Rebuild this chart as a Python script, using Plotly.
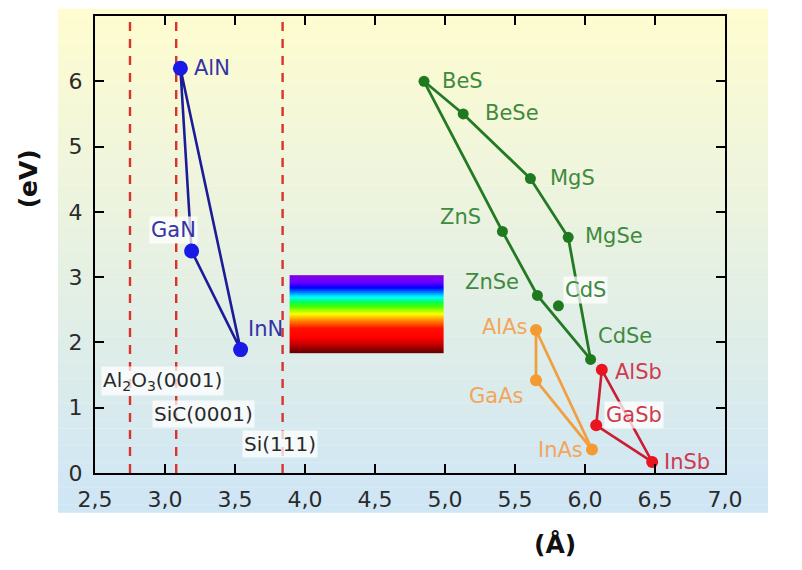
import numpy as np
import plotly.graph_objects as go

# ---------------- data ----------------
nitride_names = ["AlN", "GaN", "InN"]
nitride_a = [3.11, 3.19, 3.54]
nitride_eg = [6.20, 3.40, 1.89]

ii_vi_names = ["BeS", "BeSe", "MgS", "MgSe", "ZnS", "ZnSe", "CdS", "CdSe"]
ii_vi_a = [4.85, 5.13, 5.61, 5.88, 5.41, 5.66, 5.81, 6.04]
ii_vi_eg = [6.00, 5.50, 4.51, 3.61, 3.70, 2.72, 2.56, 1.74]

arsenide_names = ["AlAs", "GaAs", "InAs"]
arsenide_a = [5.65, 5.65, 6.05]
arsenide_eg = [2.19, 1.42, 0.36]

antimonide_names = ["AlSb", "GaSb", "InSb"]
antimonide_a = [6.12, 6.08, 6.48]
antimonide_eg = [1.58, 0.73, 0.17]

# connecting paths (by compound name)
nitride_paths = [["AlN", "GaN", "InN", "AlN"]]
ii_vi_paths = [["BeS", "BeSe", "MgS", "MgSe", "CdSe"], ["BeS", "ZnS", "ZnSe", "CdSe"]]
arsenide_paths = [["AlAs", "GaAs", "InAs", "AlAs"]]
antimonide_paths = [["AlSb", "GaSb", "InSb", "AlSb"]]

substrate_names = ["Al<sub>2</sub>O<sub>3</sub>(0001)", "SiC(0001)", "Si(111)"]
substrate_a = [2.75, 3.08, 3.84]

visible_eg_range = [1.84, 3.03]
visible_a_range = [3.89, 4.99]

x_tickvals = [2.5, 3.0, 3.5, 4.0, 4.5, 5.0, 5.5, 6.0, 6.5, 7.0]
x_ticktext = ["2,5", "3,0", "3,5", "4,0", "4,5", "5,0", "5,5", "6,0", "6,5", "7,0"]
y_tickvals = [0, 1, 2, 3, 4, 5, 6]
y_ticktext = ["0", "1", "2", "3", "4", "5", "6"]

# ---------------- styles ----------------
FONT = "DejaVu Sans, Verdana, sans-serif"
LABEL_SIZE = 21
groups = [
    dict(names=nitride_names, a=nitride_a, eg=nitride_eg, paths=nitride_paths,
         line="#1c1c98", marker="#1a1ae6", text="#3434a8", msize=15, lw=2.6),
    dict(names=ii_vi_names, a=ii_vi_a, eg=ii_vi_eg, paths=ii_vi_paths,
         line="#237a23", marker="#1f7a1f", text="#3f8a3f", msize=11, lw=2.8),
    dict(names=arsenide_names, a=arsenide_a, eg=arsenide_eg, paths=arsenide_paths,
         line="#f0a040", marker="#f59a30", text="#f2a65c", msize=12, lw=2.8),
    dict(names=antimonide_names, a=antimonide_a, eg=antimonide_eg, paths=antimonide_paths,
         line="#cc1c34", marker="#e8141e", text="#d03a4c", msize=12, lw=2.6),
]

# label placement: (xanchor, xshift, yshift, with white box)
label_style = {
    "AlN": ("left", 12, 0, False), "GaN": ("center", -18, 21, True),
    "InN": ("left", 5, 21, False),
    "BeS": ("left", 16, 0, False), "BeSe": ("left", 20, 1, False),
    "MgS": ("left", 18, 1, False), "MgSe": ("left", 15, 1, False),
    "ZnS": ("right", -19, 14, False), "ZnSe": ("right", -16, 13, False),
    "CdS": ("left", 5, 16, True), "CdSe": ("left", 5, 23, False),
    "AlAs": ("right", -6, 3, False), "GaAs": ("right", -11, -16, False),
    "InAs": ("right", -7, 0, False),
    "AlSb": ("left", 11, -2, False), "GaSb": ("left", 8, 10, True),
    "InSb": ("left", 10, 0, False),
}
substrate_label_pos = [(2.54, 1.41), (2.905, 0.905), (3.55, 0.45)]

fig = go.Figure()

# background gradient (yellow top -> light blue bottom)
top_rgb = np.array([255, 253, 208])
bot_rgb = np.array([207, 230, 246])
x0p, x1p = (58 - 95) / 630, (768 - 95) / 630
y_top, y_bot = (473 - 7) / 459, (473 - 513) / 459
nstrip = 60
for i in range(nstrip):
    t = (i + 0.5) / nstrip
    c = top_rgb * (1 - t) + bot_rgb * t
    ya = y_top + (y_bot - y_top) * i / nstrip
    yb = y_top + (y_bot - y_top) * (i + 1) / nstrip
    fig.add_shape(type="rect", xref="paper", yref="paper", x0=x0p, x1=x1p,
                  y0=yb, y1=ya + 0.0005, line=dict(width=0),
                  fillcolor="rgb(%d,%d,%d)" % tuple(c.astype(int)), layer="below")

# visible spectrum block
y_edges = np.linspace(visible_eg_range[0], visible_eg_range[1], 121)
z_mid = [[(y_edges[k] + y_edges[k + 1]) / 2] for k in range(len(y_edges) - 1)]
colorscale = [[0, "#600000"], [0.12, "#d00000"], [0.2, "#ff0000"], [0.32, "#ff1000"],
              [0.42, "#ff8c00"], [0.5, "#ffff00"], [0.6, "#40ff00"], [0.66, "#00ff60"],
              [0.72, "#00ffff"], [0.78, "#0080ff"], [0.84, "#0000ff"], [0.92, "#7000ff"],
              [1, "#8000e0"]]
fig.add_trace(go.Heatmap(x=visible_a_range, y=y_edges, z=z_mid, colorscale=colorscale,
                         showscale=False, hoverinfo="skip"))

# substrate dashed lines
for xs in substrate_a:
    fig.add_trace(go.Scatter(x=[xs, xs], y=[0.0, 7.0], mode="lines",
                             line=dict(color="#d8342c", width=2.4, dash="9px,8px"),
                             hoverinfo="skip", showlegend=False))

# compound groups
annotations = []
for g in groups:
    idx = {n: i for i, n in enumerate(g["names"])}
    for p in g["paths"]:
        fig.add_trace(go.Scatter(x=[g["a"][idx[n]] for n in p], y=[g["eg"][idx[n]] for n in p],
                                 mode="lines", line=dict(color=g["line"], width=g["lw"]),
                                 showlegend=False, hoverinfo="skip"))
    fig.add_trace(go.Scatter(x=g["a"], y=g["eg"], mode="markers", text=g["names"],
                             marker=dict(color=g["marker"], size=g["msize"]),
                             showlegend=False))
    for n, xa, ye in zip(g["names"], g["a"], g["eg"]):
        xanchor, xs, ys, box = label_style[n]
        ann = dict(x=xa, y=ye, xref="x", yref="y", text=n, showarrow=False,
                   xanchor=xanchor, yanchor="middle", xshift=xs, yshift=ys,
                   font=dict(family=FONT, size=LABEL_SIZE, color=g["text"]), borderpad=1)
        if box:
            ann["bgcolor"] = "rgba(255,255,255,0.75)"
        annotations.append(ann)

for name, (xl, yl) in zip(substrate_names, substrate_label_pos):
    annotations.append(dict(x=xl, y=yl, xref="x", yref="y", text=name, showarrow=False,
                            xanchor="left", yanchor="middle",
                            font=dict(family=FONT, size=20, color="#2a2a2a"),
                            bgcolor="rgba(255,255,255,0.75)", borderpad=1))

annotations.append(dict(x=-0.106, y=0.643, xref="paper", yref="paper", text="<b>(eV)</b>",
                        showarrow=False, textangle=-90, xanchor="center", yanchor="middle",
                        font=dict(family=FONT, size=25, color="#111111")))
annotations.append(dict(x=0.730, y=-0.157, xref="paper", yref="paper", text="<b>(Å)</b>",
                        showarrow=False, xanchor="center", yanchor="middle",
                        font=dict(family=FONT, size=25, color="#111111")))

axis_common = dict(showgrid=False, zeroline=False, showline=True, linecolor="black",
                   linewidth=2, ticks="inside", ticklen=9, tickwidth=2, tickcolor="black",
                   mirror="ticks", tickfont=dict(family=FONT, size=22, color="#2b2b2b"))

# page body has an 8px offset; margins compensate so the plot area lands in place
fig.update_layout(
    width=802, height=570,
    margin=dict(l=87, r=85, t=6, b=105),
    paper_bgcolor="white", plot_bgcolor="rgba(0,0,0,0)",
    showlegend=False,
    xaxis=dict(range=[2.5, 7.0], tickvals=x_tickvals, ticktext=x_ticktext,
               ticklabelstandoff=6, **axis_common),
    yaxis=dict(range=[0, 7.0], tickvals=y_tickvals, ticktext=y_ticktext,
               ticklabelstandoff=6, **axis_common),
    annotations=annotations,
)

fig.write_html("out.html")
